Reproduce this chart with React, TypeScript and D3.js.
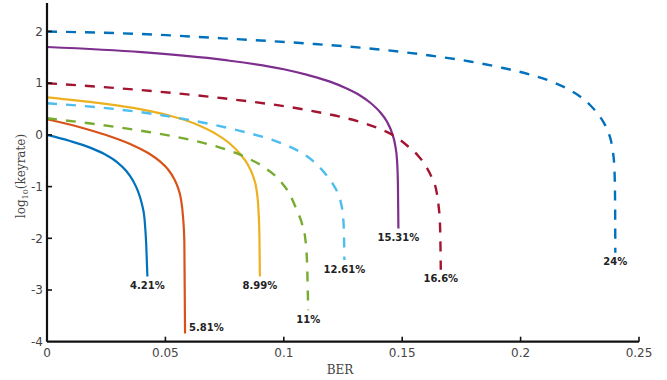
import * as d3 from "d3";

// BER ticks / log10 ticks
const BER_TICKS = [0, 0.05, 0.1, 0.15, 0.2, 0.25];
const BER_TICK_LABELS = ["0", "0.05", "0.1", "0.15", "0.2", "0.25"];
const LOG_TICKS = [-4, -3, -2, -1, 0, 1, 2];
const LOG_TICK_LABELS = ["-4", "-3", "-2", "-1", "0", "1", "2"];

// curves: [BER, log10(keyrate)]
const curve421: [number, number][] = [
  [0, 0.0], [0.0097, -0.118], [0.0182, -0.246], [0.0245, -0.377], [0.0296, -0.528],
  [0.0334, -0.694], [0.0363, -0.884], [0.0384, -1.087], [0.0401, -1.342],
  [0.0412, -1.632], [0.0419, -2.12], [0.0424, -2.74],
];
const curve581: [number, number][] = [
  [0, 0.302], [0.0139, 0.149], [0.0253, -0.008], [0.0351, -0.176], [0.0427, -0.35],
  [0.0477, -0.513], [0.0511, -0.667], [0.0536, -0.841], [0.0553, -1.019],
  [0.0566, -1.251], [0.0574, -1.561], [0.058, -2.064], [0.0583, -3.84],
];
const curve899: [number, number][] = [
  [0, 0.727], [0.0224, 0.615], [0.0393, 0.499], [0.0519, 0.371], [0.0625, 0.217],
  [0.0709, 0.031], [0.0773, -0.172], [0.0815, -0.366], [0.0849, -0.582],
  [0.087, -0.795], [0.0885, -1.066], [0.0893, -1.453], [0.0897, -1.936],
  [0.0899, -2.74],
];
const curve11: [number, number][] = [
  [0, 0.321], [0.0224, 0.197], [0.0435, 0.052], [0.0604, -0.095], [0.0731, -0.246],
  [0.0836, -0.426], [0.0921, -0.638], [0.0984, -0.886], [0.1026, -1.157],
  [0.1056, -1.468], [0.1077, -1.72], [0.109, -1.981], [0.1098, -2.445],
  [0.1103, -3.39],
];
const curve1261: [number, number][] = [
  [0, 0.611], [0.0224, 0.53], [0.0435, 0.414], [0.0646, 0.25], [0.0815, 0.079],
  [0.0942, -0.083], [0.1026, -0.23], [0.109, -0.389], [0.114, -0.575],
  [0.1178, -0.766], [0.1208, -0.956], [0.1229, -1.139], [0.1242, -1.331],
  [0.125, -1.563], [0.1254, -1.911], [0.1256, -2.42],
];
const curve1531: [number, number][] = [
  [0, 1.7], [0.04, 1.6], [0.0745, 1.45], [0.1, 1.27], [0.11, 1.16],
  [0.1195, 1.03], [0.1258, 0.913], [0.1322, 0.762], [0.1364, 0.627],
  [0.1406, 0.443], [0.1436, 0.253], [0.1457, 0.037], [0.147, -0.19],
  [0.1478, -0.48], [0.1482, -0.97], [0.1484, -1.81],
];
const curve166: [number, number][] = [
  [0, 1.0], [0.0393, 0.868], [0.0745, 0.708], [0.1097, 0.482], [0.1237, 0.352],
  [0.1322, 0.251], [0.1406, 0.116], [0.147, -0.029], [0.1524, -0.219],
  [0.1567, -0.402], [0.16, -0.603], [0.1626, -0.836], [0.1643, -1.052],
  [0.1653, -1.342], [0.166, -1.778], [0.1663, -2.61],
];
const curve24: [number, number][] = [
  [0, 2.0], [0.0393, 1.952], [0.0743, 1.868], [0.1098, 1.768], [0.1406, 1.652],
  [0.1617, 1.536], [0.1786, 1.42], [0.1926, 1.294], [0.204, 1.168],
  [0.2124, 1.043], [0.2196, 0.897], [0.2251, 0.743], [0.2293, 0.578],
  [0.2327, 0.404], [0.2352, 0.23], [0.2369, 0.066], [0.2382, -0.118],
  [0.239, -0.331], [0.2396, -0.64], [0.2399, -1.26], [0.24, -2.28],
];

const SERIES_LABELS = ["4.21%", "5.81%", "8.99%", "11%", "12.61%", "15.31%", "16.6%", "24%"];

// matlab-ish line colours
const series = [
  { name: SERIES_LABELS[0], pts: curve421, color: "#0072BD", dashed: false, side: false },
  { name: SERIES_LABELS[1], pts: curve581, color: "#D95319", dashed: false, side: true },
  { name: SERIES_LABELS[2], pts: curve899, color: "#EDB120", dashed: false, side: false },
  { name: SERIES_LABELS[5], pts: curve1531, color: "#7E2F8E", dashed: false, side: false },
  { name: SERIES_LABELS[3], pts: curve11, color: "#77AC30", dashed: true, side: false },
  { name: SERIES_LABELS[4], pts: curve1261, color: "#4DBEEE", dashed: true, side: false },
  { name: SERIES_LABELS[6], pts: curve166, color: "#A2142F", dashed: true, side: false },
  { name: SERIES_LABELS[7], pts: curve24, color: "#0072BD", dashed: true, side: false },
];

const W = 667;
const H = 380;
const left = 47;
const right = 639;
const bottom = 341.7;

export default function App() {
  const x = d3.scaleLinear().domain([0, 0.25]).range([left, right]);
  const y = d3.scaleLinear().domain([-4, 2]).range([bottom, 31.5]);
  const yTop = y(2.55);

  const line = d3
    .line<[number, number]>()
    .x((d) => x(d[0]))
    .y((d) => y(d[1]))
    .curve(d3.curveMonotoneX);

  const tickFont = "'DejaVu Sans', sans-serif";

  return (
    <svg
      width={W}
      height={H}
      style={{ position: "absolute", left: 0, top: 0, background: "#fff" }}
    >
      {/* curves */}
      {series.map((s) => (
        <path
          key={s.name}
          d={line(s.pts) || ""}
          fill="none"
          stroke={s.color}
          strokeWidth={s.dashed ? 2.4 : 2.2}
          strokeDasharray={s.dashed ? "10,9" : undefined}
        />
      ))}

      {/* end labels */}
      {series.map((s) => {
        const end = s.pts[s.pts.length - 1];
        return (
          <text
            key={"lbl" + s.name}
            x={x(end[0]) + (s.side ? 4 : 0)}
            y={y(end[1]) + (s.side ? -2 : 12.5)}
            textAnchor={s.side ? "start" : "middle"}
            fontFamily={tickFont}
            fontWeight="bold"
            fontSize={10}
            fill="#222"
          >
            {s.name}
          </text>
        );
      })}

      {/* axes */}
      <line x1={left} x2={left} y1={yTop} y2={bottom} stroke="#111" strokeWidth={2.2} />
      <line x1={left} x2={right} y1={bottom} y2={bottom} stroke="#111" strokeWidth={2.2} />
      {BER_TICKS.map((t, i) => (
        <g key={"xt" + t}>
          {i > 0 && (
            <line x1={x(t)} x2={x(t)} y1={bottom} y2={bottom - 5} stroke="#111" strokeWidth={1.6} />
          )}
          <text
            x={x(t)}
            y={bottom + 15.5}
            textAnchor="middle"
            fontFamily={tickFont}
            fontSize={12}
            fill="#444"
          >
            {BER_TICK_LABELS[i]}
          </text>
        </g>
      ))}
      {LOG_TICKS.map((t, i) => (
        <g key={"yt" + t}>
          {i > 0 && (
            <line x1={left} x2={left + 5} y1={y(t)} y2={y(t)} stroke="#111" strokeWidth={1.6} />
          )}
          <text
            x={left - 4}
            y={y(t)}
            dy="0.35em"
            textAnchor="end"
            fontFamily={tickFont}
            fontSize={12}
            fill="#444"
          >
            {LOG_TICK_LABELS[i]}
          </text>
        </g>
      ))}

      {/* axis titles */}
      <text
        x={340}
        y={374}
        textAnchor="middle"
        fontFamily="'DejaVu Serif', serif"
        fontSize={12}
        fill="#444"
      >
        BER
      </text>
      <text
        transform="translate(25,176) rotate(-90)"
        textAnchor="middle"
        fontFamily="'DejaVu Serif', serif"
        fontSize={12}
        fill="#444"
      >
        log<tspan fontSize={8} dy={3}>10</tspan>
        <tspan dy={-3}>(keyrate)</tspan>
      </text>
    </svg>
  );
}
